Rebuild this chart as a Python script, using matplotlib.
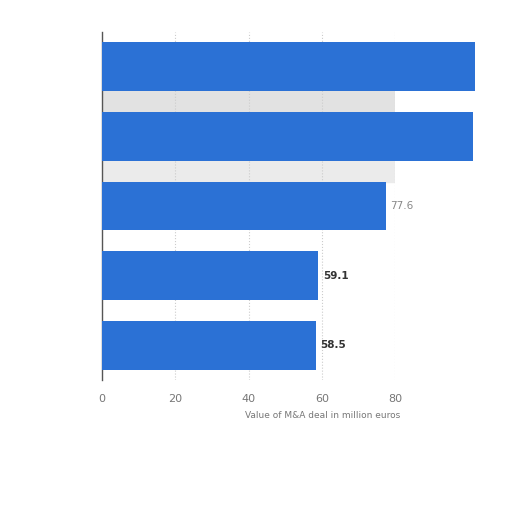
import matplotlib.pyplot as plt

# values in million euros, top to bottom (names in the source are blurred out)
categories = ["", "", "", "", ""]
values = [101.9, 101.3, 77.6, 59.1, 58.5]
value_labels = ["", "", "77.6", "59.1", "58.5"]
x_ticks = [0, 20, 40, 60, 80]

fig = plt.figure(figsize=(5.12, 5.12), dpi=100)
ax = fig.add_axes([102 / 512, 1 - 380 / 512, 293 / 512, 348 / 512])

ypos = list(range(len(values)))
# grey bands seen in the gaps at the top
ax.axhspan(0.35, 0.65, color='#e2e2e2', zorder=0)
ax.axhspan(1.35, 1.65, color='#ebebeb', zorder=0)

bars = ax.barh(ypos, values, height=0.7, color='#2b71d5', zorder=3, clip_on=False)
for b, lab in zip(bars, value_labels):
    if lab:
        color = '#888888' if lab == "77.6" else '#333333'
        weight = 'normal' if lab == "77.6" else 'bold'
        ax.text(b.get_width() + 1.2, b.get_y() + b.get_height() / 2, lab,
                va='center', ha='left', fontsize=7.5, color=color, fontweight=weight)

ax.set_xlim(0, 80)
ax.set_ylim(4.5, -0.5)
ax.set_xticks(x_ticks)
ax.set_xticklabels([str(t) for t in x_ticks], color='#777777', fontsize=8)
ax.set_yticks(ypos)
ax.set_yticklabels(categories)
ax.tick_params(axis='both', length=0)
ax.tick_params(axis='x', pad=10)
ax.grid(axis='x', color='#cccccc', linestyle=':', linewidth=0.8, zorder=1)
for s in ['top', 'right', 'bottom']:
    ax.spines[s].set_visible(False)
ax.spines['left'].set_color('#555555')
ax.spines['left'].set_linewidth(1)

fig.text(400 / 512, 1 - 416 / 512, "Value of M&A deal in million euros",
         ha='right', va='center', fontsize=6.5, color='#777777')

fig.savefig("out.png", dpi=100, facecolor='white')
